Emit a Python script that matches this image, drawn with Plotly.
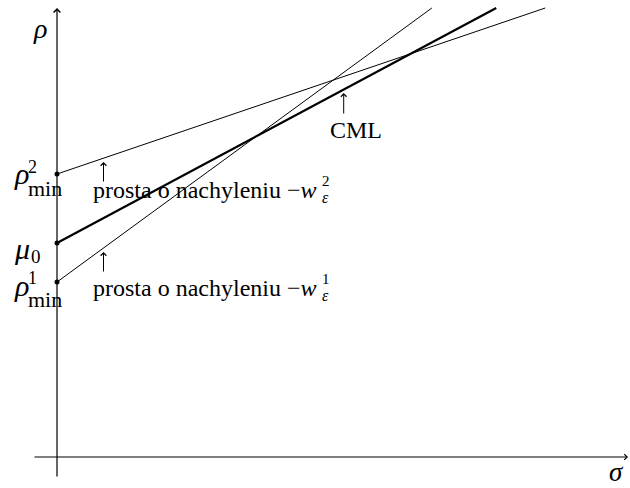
import plotly.graph_objects as go

# Intercepts on the rho axis and slopes of the three lines
line_names = ["rho_min_1", "mu_0", "rho_min_2"]
intercepts = [1.75, 2.14, 2.83]
slopes = [0.731, 0.535, 0.340]
line_widths = [1.0, 2.2, 1.0]
rho_top = 4.49

SERIF = "Liberation Serif, Times New Roman, serif"

fig = go.Figure()

# the three straight lines starting on the rho axis
for b, a, w in zip(intercepts, slopes, line_widths):
    s_end = (rho_top - b) / a
    fig.add_trace(go.Scatter(x=[0, s_end], y=[b, rho_top], mode="lines",
                             line=dict(color="black", width=w),
                             hoverinfo="skip", showlegend=False))

# dots at the intercepts
fig.add_trace(go.Scatter(x=[0] * len(intercepts), y=intercepts, mode="markers",
                         marker=dict(color="black", size=5),
                         hoverinfo="skip", showlegend=False))

ann = []

def arrow(x, y, ax, ay, width=1.0):
    ann.append(dict(x=x, y=y, ax=ax, ay=ay, xref="x", yref="y", axref="x", ayref="y",
                    text="", showarrow=True, arrowhead=4, arrowsize=1.1,
                    arrowwidth=width, arrowcolor="black"))

def label(x, y, text, size=18, xanchor="center", yanchor="middle", align="center"):
    ann.append(dict(x=x, y=y, xref="x", yref="y", text=text, showarrow=False,
                    xanchor=xanchor, yanchor=yanchor, borderpad=0, align=align,
                    font=dict(family=SERIF, size=size, color="black")))

# coordinate axes
arrow(5.71, 0, -0.24, 0, width=1.0)
arrow(0, rho_top, 0, -0.21, width=1.2)
label(-0.175, 4.29, "<i>ρ</i>", size=28)
label(5.59, -0.31, "<i>σ</i>", size=27, yanchor="bottom")

# labels on the rho axis: symbol plus stacked upper/lower indices
MIN = '<span style="font-size:22px">min</span>'
label(-0.36, 2.84, "<i>ρ</i>", size=30)
label(-0.30, 2.785, "2<br>" + MIN, size=18, xanchor="left", align="left")

label(-0.355, 2.09, "<i>μ</i>", size=30)
label(-0.275, 2.01, "0", size=19, xanchor="left")

label(-0.36, 1.715, "<i>ρ</i>", size=30)
label(-0.30, 1.67, "1<br>" + MIN, size=18, xanchor="left", align="left")

# pointers to the two thin lines and their captions
EPS = '<span style="font-size:16px"><i>ε</i></span>'
def upper(d):
    return '<span style="font-size:15px">%s</span>' % d

s_p = 0.465
arrow(s_p, 2.95, s_p, 2.74)
arrow(s_p, 2.05, s_p, 1.84)
label(0.345, 2.67, "prosta o nachyleniu −<i>w</i>", size=24, xanchor="left")
label(0.345, 1.69, "prosta o nachyleniu −<i>w</i>", size=24, xanchor="left")
label(2.635, 2.675, upper("2") + "<br>" + EPS, size=13, xanchor="left", align="left")
label(2.635, 1.695, upper("1") + "<br>" + EPS, size=13, xanchor="left", align="left")

# pointer to the capital market line
s_c = 2.867
arrow(s_c, 3.64, s_c, 3.42)
label(2.99, 3.27, "CML", size=24)

fig.update_layout(
    width=630, height=488,
    margin=dict(l=0, r=0, t=0, b=0),
    paper_bgcolor="white", plot_bgcolor="white",
    xaxis=dict(range=[-0.57, 5.73], visible=False, fixedrange=True),
    yaxis=dict(range=[-0.31, 4.57], visible=False, fixedrange=True),
    annotations=ann,
    showlegend=False,
)

fig.write_html("out.html")
